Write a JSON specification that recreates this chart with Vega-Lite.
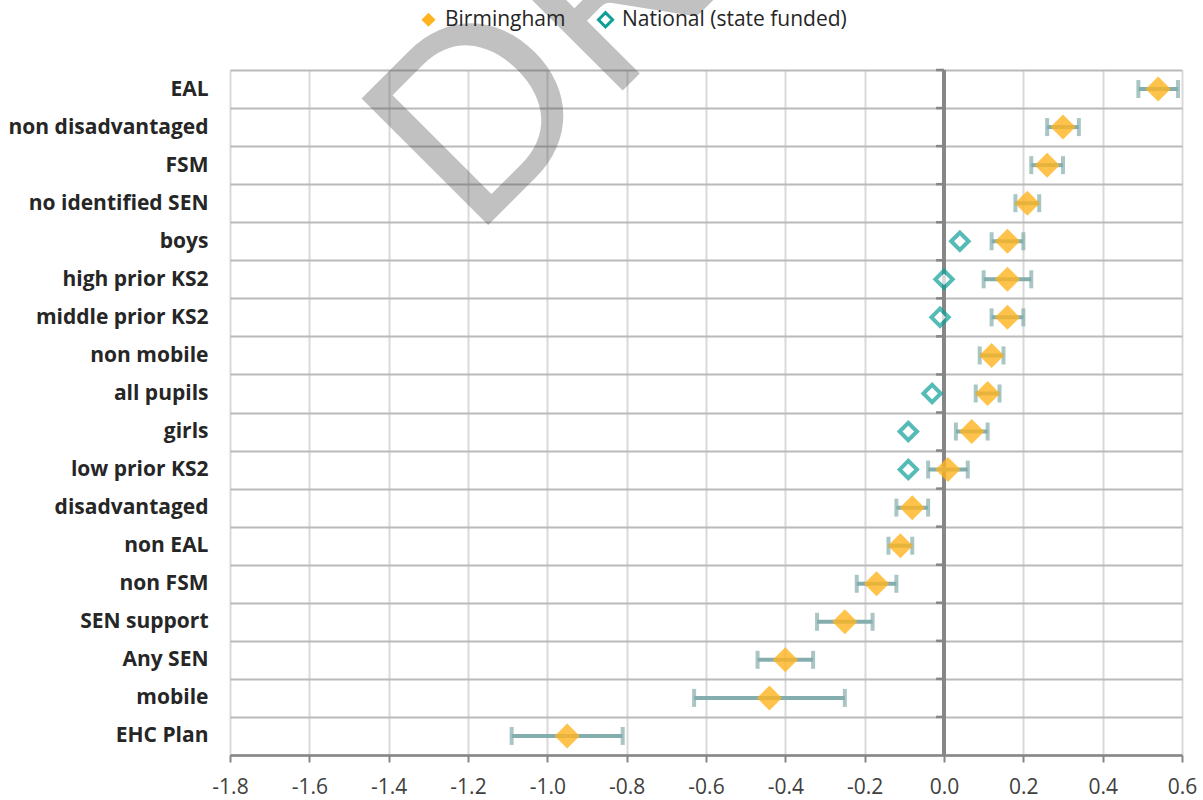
{
  "$schema": "https://vega.github.io/schema/vega-lite/v6.json",
  "width": 952,
  "height": 685,
  "autosize": {"type": "none"},
  "padding": {"left": 230, "top": 70, "right": 21, "bottom": 45},
  "background": "white",
  "config": {
    "view": {"stroke": null},
    "font": "Open Sans",
    "locale": {"number": {"decimal": ".", "thousands": ",", "grouping": [3], "currency": ["", ""], "minus": "-"}}
  },
  "data": {"values": [
    {"cat": "EAL", "b": 0.54, "lo": 0.49, "hi": 0.59, "nat": null},
    {"cat": "non disadvantaged", "b": 0.30, "lo": 0.26, "hi": 0.34, "nat": null},
    {"cat": "FSM", "b": 0.26, "lo": 0.22, "hi": 0.30, "nat": null},
    {"cat": "no identified SEN", "b": 0.21, "lo": 0.18, "hi": 0.24, "nat": null},
    {"cat": "boys", "b": 0.16, "lo": 0.12, "hi": 0.20, "nat": 0.04},
    {"cat": "high prior KS2", "b": 0.16, "lo": 0.10, "hi": 0.22, "nat": 0.00},
    {"cat": "middle prior KS2", "b": 0.16, "lo": 0.12, "hi": 0.20, "nat": -0.01},
    {"cat": "non mobile", "b": 0.12, "lo": 0.09, "hi": 0.15, "nat": null},
    {"cat": "all pupils", "b": 0.11, "lo": 0.08, "hi": 0.14, "nat": -0.03},
    {"cat": "girls", "b": 0.07, "lo": 0.03, "hi": 0.11, "nat": -0.09},
    {"cat": "low prior KS2", "b": 0.01, "lo": -0.04, "hi": 0.06, "nat": -0.09},
    {"cat": "disadvantaged", "b": -0.08, "lo": -0.12, "hi": -0.04, "nat": null},
    {"cat": "non EAL", "b": -0.11, "lo": -0.14, "hi": -0.08, "nat": null},
    {"cat": "non FSM", "b": -0.17, "lo": -0.22, "hi": -0.12, "nat": null},
    {"cat": "SEN support", "b": -0.25, "lo": -0.32, "hi": -0.18, "nat": null},
    {"cat": "Any SEN", "b": -0.40, "lo": -0.47, "hi": -0.33, "nat": null},
    {"cat": "mobile", "b": -0.44, "lo": -0.63, "hi": -0.25, "nat": null},
    {"cat": "EHC Plan", "b": -0.95, "lo": -1.09, "hi": -0.81, "nat": null}
  ]},
  "encoding": {
    "y": {
      "field": "cat", "type": "nominal", "sort": null,
      "scale": {"paddingInner": 0, "paddingOuter": 0},
      "axis": {
        "title": null, "domain": false, "ticks": false, "tickSize": 0,
        "labelFontSize": 21, "labelFontWeight": "bold", "labelFont": "Open Sans",
        "labelColor": "#262626", "labelPadding": 22, "labelLimit": 400,
        "grid": true, "gridColor": "#BABABA", "gridWidth": 2, "tickBand": "extent"
      }
    }
  },
  "layer": [
    {
      "mark": {"type": "rule", "color": "#868686", "strokeWidth": 2.5},
      "encoding": {
        "x": {
          "datum": 0, "type": "quantitative",
          "scale": {"domain": [-1.8, 0.6], "nice": false, "zero": false},
          "axis": {
            "title": null, "values": [-1.8, -1.6, -1.4, -1.2, -1.0, -0.8, -0.6, -0.4, -0.2, 0.0, 0.2, 0.4, 0.6],
            "format": ".1f", "labelFontSize": 21, "labelFont": "Open Sans", "labelColor": "#404040",
            "labelFlush": false, "labelPadding": 14,
            "tickColor": "#868686", "tickSize": 7, "tickWidth": 2,
            "domainColor": "#868686", "domainWidth": 2.5,
            "grid": true, "gridColor": "#D9D9D9", "gridWidth": 2
          }
        },
        "y": {"value": 0},
        "y2": {"value": 685}
      }
    },
    {
      "mark": {"type": "rule", "color": "#868686", "strokeWidth": 2.5},
      "encoding": {
        "x": {"datum": -0.02, "type": "quantitative"},
        "x2": {"datum": 0},
        "y": {"field": "cat", "type": "nominal", "sort": null, "bandPosition": 0}
      }
    },
    {
      "mark": {"type": "rule", "color": "#84AEAD", "strokeWidth": 4},
      "encoding": {
        "x": {"field": "lo", "type": "quantitative"},
        "x2": {"field": "hi"}
      }
    },
    {
      "mark": {"type": "tick", "color": "#84AEAD", "size": 18, "thickness": 4, "orient": "vertical"},
      "encoding": {"x": {"field": "lo", "type": "quantitative"}}
    },
    {
      "mark": {"type": "tick", "color": "#84AEAD", "size": 18, "thickness": 4, "orient": "vertical"},
      "encoding": {"x": {"field": "hi", "type": "quantitative"}}
    },
    {
      "mark": {"type": "point", "shape": "diamond", "filled": true, "size": 625, "fillOpacity": 0.8, "strokeWidth": 0},
      "encoding": {
        "x": {"field": "b", "type": "quantitative"},
        "fill": {
          "datum": "Birmingham", "type": "nominal",
          "scale": {"domain": ["Birmingham", "National (state funded)"], "range": ["#FFB41F", "#FFFFFF"]},
          "legend": {
            "orient": "none", "legendX": 188, "legendY": -61, "direction": "horizontal",
            "title": null, "labelFontSize": 21, "labelFont": "Open Sans", "labelColor": "#262626",
            "labelLimit": 400, "symbolType": "diamond", "symbolSize": 200, "symbolStrokeWidth": 3,
            "columnPadding": 26, "labelOffset": 6
          }
        },
        "stroke": {
          "datum": "Birmingham", "type": "nominal",
          "scale": {"domain": ["Birmingham", "National (state funded)"], "range": ["transparent", "#0E9F98"]},
          "legend": {
            "orient": "none", "legendX": 188, "legendY": -61, "direction": "horizontal",
            "title": null, "labelFontSize": 21, "labelFont": "Open Sans", "labelColor": "#262626",
            "labelLimit": 400, "symbolType": "diamond", "symbolSize": 200, "symbolStrokeWidth": 3,
            "columnPadding": 26, "labelOffset": 6
          }
        }
      }
    },
    {
      "transform": [{"filter": "datum.nat != null"}],
      "mark": {"type": "point", "shape": "diamond", "filled": true, "size": 300, "strokeWidth": 4},
      "encoding": {
        "x": {"field": "nat", "type": "quantitative"},
        "fill": {"datum": "National (state funded)", "type": "nominal"},
        "stroke": {"datum": "National (state funded)", "type": "nominal"}
      }
    },
    {
      "data": {"values": [{"t": "DRAFT", "wx": -1.19, "cat": "boys"}]},
      "mark": {"type": "text", "angle": -45, "align": "left", "baseline": "alphabetic", "font": "Lato", "fontSize": 250, "fill": "#464646", "opacity": 0.33},
      "encoding": {
        "x": {"field": "wx", "type": "quantitative"},
        "y": {"field": "cat", "type": "nominal", "sort": null},
        "text": {"field": "t"}
      }
    }
  ]
}
